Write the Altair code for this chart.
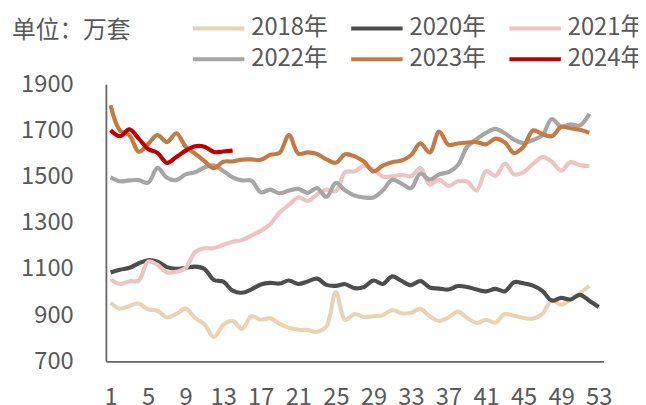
import altair as alt
import pandas as pd

FONT = "Noto Sans CJK SC"
TEXT_COLOR = "#595959"

x_ticks = [1, 5, 9, 13, 17, 21, 25, 29, 33, 37, 41, 45, 49, 53]
y_ticks = [700, 900, 1100, 1300, 1500, 1700, 1900]

names = ["2018年", "2020年", "2021年", "2022年", "2023年", "2024年"]
colors = ["#E8D4B4", "#4D4D4D", "#EDC3C3", "#A6A6A6", "#C37A45", "#C00000"]

s2018 = [954, 928, 940, 950, 925, 919, 890, 905, 928, 888, 860, 805, 858, 875, 840, 895,
         880, 886, 862, 845, 837, 835, 828, 852, 1000, 880, 905, 892, 895, 900, 922, 908,
         910, 927, 895, 875, 890, 915, 888, 866, 880, 868, 905, 897, 888, 885, 905, 965,
         945, 968, 995, 1027]
s2020 = [1085, 1097, 1105, 1125, 1138, 1132, 1108, 1101, 1105, 1110, 1100, 1052, 1045,
         1006, 997, 1012, 1033, 1040, 1037, 1050, 1035, 1046, 1058, 1031, 1027, 1034, 1017,
         1022, 1050, 1035, 1068, 1048, 1030, 1048, 1020, 1015, 1011, 1026, 1022, 1011, 1003,
         1014, 1003, 1043, 1038, 1028, 1005, 963, 975, 968, 988, 962, 935]
s2021 = [1055, 1035, 1047, 1050, 1132, 1118, 1085, 1088, 1105, 1173, 1190, 1190, 1205,
         1218, 1225, 1245, 1265, 1294, 1345, 1378, 1410, 1395, 1423, 1444, 1437, 1520, 1523,
         1548, 1530, 1501, 1501, 1508, 1502, 1537, 1466, 1487, 1460, 1480, 1478, 1440, 1525,
         1503, 1557, 1510, 1520, 1555, 1585, 1565, 1526, 1563, 1550, 1545]
s2022 = [1497, 1480, 1484, 1485, 1474, 1538, 1495, 1485, 1510, 1519, 1540, 1549, 1525,
         1497, 1484, 1483, 1432, 1444, 1428, 1440, 1447, 1430, 1450, 1412, 1473, 1440, 1418,
         1410, 1410, 1440, 1487, 1470, 1450, 1514, 1487, 1510, 1520, 1550, 1630, 1663, 1690,
         1707, 1688, 1660, 1645, 1659, 1680, 1750, 1717, 1727, 1722, 1773]
s2023 = [1809, 1700, 1680, 1608, 1642, 1680, 1650, 1688, 1630, 1600, 1567, 1537, 1565,
         1566, 1574, 1575, 1573, 1595, 1603, 1680, 1600, 1605, 1598, 1575, 1560, 1597, 1588,
         1565, 1523, 1548, 1563, 1570, 1593, 1644, 1605, 1695, 1638, 1644, 1648, 1650, 1640,
         1665, 1648, 1602, 1630, 1700, 1685, 1675, 1715, 1710, 1703, 1690]
s2024 = [1701, 1675, 1705, 1665, 1620, 1603, 1560, 1585, 1613, 1632, 1630, 1607, 1609, 1613]

series = [s2018, s2020, s2021, s2022, s2023, s2024]

rows = []
for name, vals in zip(names, series):
    for i, v in enumerate(vals):
        rows.append({"年份": name, "周": i + 1, "数值": v})
df = pd.DataFrame(rows)

axis_common = dict(title=None, grid=False, ticks=False, labelOverlap=False,
                   labelFont=FONT, labelFontSize=24, labelColor=TEXT_COLOR,
                   domainColor="#666666", domainWidth=1.8, format="d")

chart = alt.Chart(df).mark_line(
    interpolate="catmull-rom", strokeWidth=4.2
).encode(
    x=alt.X("周:Q",
            scale=alt.Scale(domain=[0.5, 53.5], nice=False, zero=False),
            axis=alt.Axis(values=x_ticks, labelPadding=25, labelFlush=False,
                          **axis_common)),
    y=alt.Y("数值:Q",
            scale=alt.Scale(domain=[700, 1900], nice=False, zero=False),
            axis=alt.Axis(values=y_ticks, labelPadding=33, **axis_common)),
    color=alt.Color("年份:N",
                    scale=alt.Scale(domain=names, range=colors),
                    legend=alt.Legend(orient="none", legendX=86, legendY=-70,
                                      direction="horizontal", columns=3, title=None,
                                      symbolType="stroke", symbolSize=2704,
                                      symbolStrokeWidth=4, labelFontSize=24,
                                      labelFont=FONT, labelColor=TEXT_COLOR,
                                      labelOffset=5, columnPadding=21, rowPadding=4,
                                      clipHeight=27, padding=0)),
).properties(
    width=503,
    height=280,
    padding={"left": 99, "top": 75, "right": 35, "bottom": 44},
    autosize=alt.AutoSizeParams(type="none"),
    title=alt.TitleParams("单位：万套", anchor="start", frame="group", dx=-95, dy=38,
                          fontSize=24, font=FONT, color=TEXT_COLOR,
                          fontWeight="normal", offset=10),
).configure(
    background="white"
).configure_view(
    stroke=None
)

chart.save("out.html", embed_options={"renderer": "svg", "actions": False})
